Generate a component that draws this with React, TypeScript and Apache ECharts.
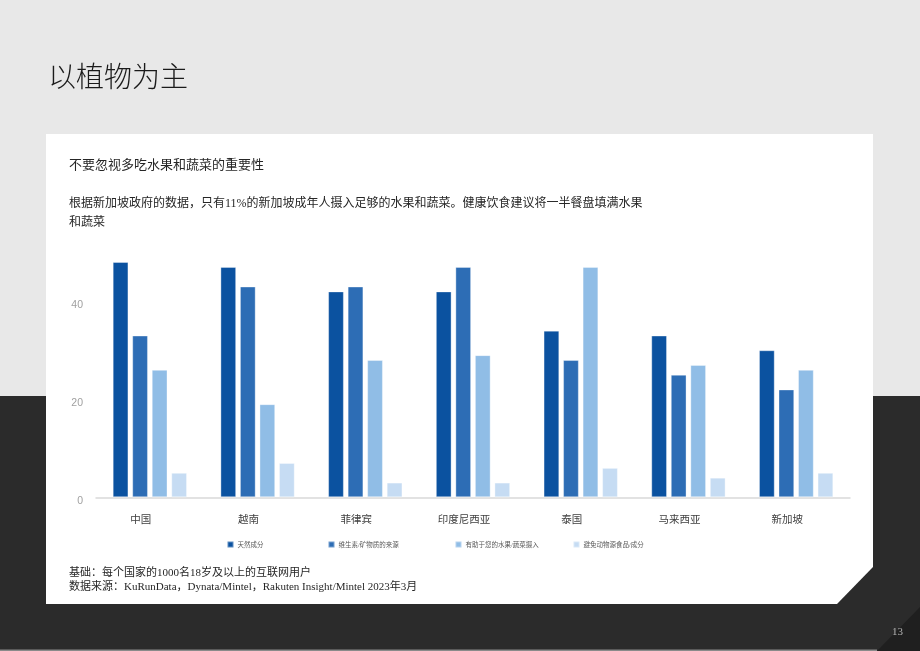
import React, { useEffect, useRef } from "react";
import * as echarts from "echarts";

const categories = ["中国", "越南", "菲律宾", "印度尼西亚", "泰国", "马来西亚", "新加坡"];
const seriesNames = ["天然成分", "维生素/矿物质的来源", "有助于您的水果/蔬菜摄入", "避免动物源食品/成分"];
const naturalIngredients = [48, 47, 42, 42, 34, 33, 30];
const vitaminSource = [33, 43, 43, 47, 28, 25, 22];
const fruitVegIntake = [26, 19, 28, 29, 47, 27, 26];
const avoidAnimal = [5, 7, 3, 3, 6, 4, 5];
const yTicks = [0, 20, 40];

const colors = ["#0b52a0", "#2d6db5", "#90bde6", "#c6dcf3"];
const SERIF = "'Liberation Serif', 'Noto Sans CJK SC', serif";
const SANS_CJK = "'Noto Sans CJK SC', 'Noto Sans', sans-serif";

export default function App() {
  const ref = useRef<HTMLDivElement>(null);
  useEffect(() => {
    if (!ref.current) return;
    const chart = echarts.init(ref.current, null, { renderer: "svg" });
    const values = [naturalIngredients, vitaminSource, fruitVegIntake, avoidAnimal];
    const legendLefts = [226.5, 327.5, 454.5, 572.5];
    const option: any = {
      animation: false,
      backgroundColor: "transparent",
      graphic: [
        { type: "rect", z: -10, shape: { x: 0, y: 0, width: 920, height: 396 }, style: { fill: "#e8e8e8" } },
        { type: "rect", z: -10, shape: { x: 0, y: 396, width: 920, height: 255 }, style: { fill: "#2b2b2b" } },
        { type: "polygon", z: -9, shape: { points: [[877, 651], [920, 607], [920, 651]] }, style: { fill: "#1f1f1f" } },
        { type: "rect", z: -9, shape: { x: 0, y: 649.5, width: 877, height: 1.5 }, style: { fill: "#8a8a8a" } },
        {
          type: "polygon",
          z: -8,
          shape: { points: [[46, 134], [873, 134], [873, 567], [837, 604], [46, 604]] },
          style: { fill: "#ffffff" },
        },
        {
          type: "text",
          left: 48,
          top: 61,
          style: { text: "以植物为主", fill: "#1a1a1a", font: `300 28px ${SANS_CJK}` },
        },
        {
          type: "text",
          left: 69,
          top: 158,
          style: { text: "不要忽视多吃水果和蔬菜的重要性", fill: "#262626", font: `13px ${SERIF}` },
        },
        {
          type: "text",
          left: 69,
          top: 193,
          style: {
            text: "根据新加坡政府的数据，只有11%的新加坡成年人摄入足够的水果和蔬菜。健康饮食建议将一半餐盘填满水果\n和蔬菜",
            fill: "#262626",
            font: `12px ${SERIF}`,
            lineHeight: 19,
          },
        },
        {
          type: "text",
          left: 69,
          top: 565,
          style: {
            text: "基础：每个国家的1000名18岁及以上的互联网用户\n数据来源：KuRunData，Dynata/Mintel，Rakuten Insight/Mintel 2023年3月",
            fill: "#262626",
            font: `11px ${SERIF}`,
            lineHeight: 14,
          },
        },
        {
          type: "text",
          left: 892,
          top: 625,
          style: { text: "13", fill: "#b0b0b0", font: `11px ${SERIF}` },
        },
      ],
      legend: seriesNames.map((name, i) => ({
        data: [name],
        left: legendLefts[i],
        top: 540.5,
        padding: 0,
        icon: "rect",
        itemWidth: 6,
        itemHeight: 6,
        itemGap: 4,
        textStyle: {
          color: "#595959",
          fontSize: 6.5,
          fontFamily: SERIF,
          padding: i >= 2 ? [0, 0, 7, -1] : [0, 0, 0, -1],
        },
      })),
      grid: { left: 96, right: 70, top: 262, bottom: 153.7, containLabel: false },
      xAxis: {
        type: "category",
        data: categories,
        axisLine: { show: true, lineStyle: { color: "#d9d9d9", width: 1.5 } },
        axisTick: { show: false },
        axisLabel: {
          color: "#404040",
          fontSize: 10.5,
          fontFamily: SANS_CJK,
          margin: 16,
          padding: [0, 18, 0, 0],
        },
      },
      yAxis: {
        type: "value",
        min: yTicks[0],
        max: 48,
        interval: yTicks[1] - yTicks[0],
        axisLine: { show: false },
        axisTick: { show: false },
        splitLine: { show: false },
        axisLabel: {
          color: "#a0a0a0",
          fontSize: 10.5,
          fontFamily: "'Liberation Sans', sans-serif",
          margin: 13,
          showMaxLabel: false,
          verticalAlign: "top",
          lineHeight: 6,
        },
      },
      series: seriesNames.map((name, i) => ({
        name,
        type: "bar",
        data: values[i],
        barCategoryGap: "31%",
        barGap: "24%",
        itemStyle: {
          color: colors[i],
          borderColor: "rgba(255,255,255,0.35)",
          borderWidth: 1,
        },
      })),
    };
    chart.setOption(option);
    return () => chart.dispose();
  }, []);
  return (
    <div
      ref={ref}
      style={{ position: "fixed", left: 0, top: 0, width: 920, height: 651 }}
    />
  );
}
